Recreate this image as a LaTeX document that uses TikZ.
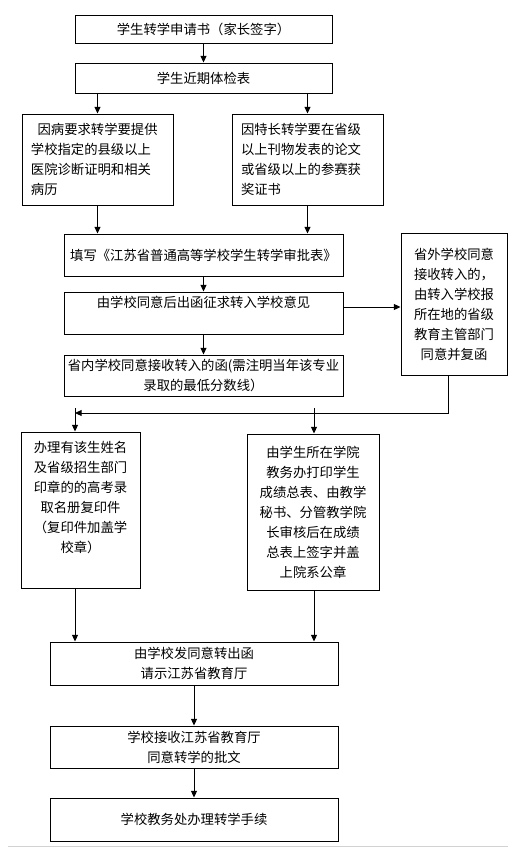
\documentclass[tikz,border=0pt]{standalone}
\usepackage{fontspec}
\setmainfont{Noto Sans CJK SC}
\usetikzlibrary{arrows.meta}

\begin{document}
\begin{tikzpicture}[x=0.75pt,y=-0.75pt]
			\tikzset{box/.style = {shape=rectangle,draw,line width=0.75pt,
					font=\fontsize{10pt}{15pt}\selectfont, align=center,
					inner sep = 0pt}}
			\tikzset{sidebox/.style = {box, align=left, text width=99.75pt,
					inner xsep=6.75pt, minimum height=68.25pt}}
			\tikzset{edge/.style = {-{Triangle[width=4.5pt,length=5pt]}, line width=0.75pt}}
			\tikzset{line/.style = {line width=0.75pt}}

			\useasboundingbox (0,0) rectangle (518,857);

			% boxes
			\node[box, minimum width=192.75pt, minimum height=21pt] (apply) at (203.5,29) {学生转学申请书（家长签字）};
			\node[box, minimum width=192.75pt, minimum height=22.5pt] (health) at (203.5,78) {学生近期体检表};
			\node[sidebox] (ill) at (97.5,159.5) {\hspace{0.5em}因病要求转学要提供\\学校指定的县级以上\\医院诊断证明和相关\\病历};
			\node[sidebox] (talent) at (307.5,159.5) {因特长转学要在省级\\以上刊物发表的论文\\或省级以上的参赛获\\奖证书};
			\node[box, minimum width=209.25pt, minimum height=31.5pt] (form) at (203.5,255) {填写《江苏省普通高等学校学生转学审批表》};
			\node[box, minimum width=209.25pt, minimum height=31.5pt] (ask) at (203.5,313) {由学校同意后出函征求转入学校意见\\[-3pt]\strut};
			\node[box, minimum width=79.5pt, minimum height=106.5pt] (outer) at (454,304) {省外学校同意\\接收转入的，\\由转入学校报\\所在地的省级\\教育主管部门\\同意并复函};
			\node[box, minimum width=209.25pt, minimum height=30.75pt] (inner) at (203.5,375.5) {省内学校同意接收转入的函(需注明当年该专业\\录取的最低分数线）};
			\node[box, minimum width=89.25pt, minimum height=117pt] (copy) at (80.5,510) {办理有该生姓名\\及省级招生部门\\印章的的高考录\\取名册复印件\\（复印件加盖学\\校章）\\ \strut};
			\node[box, minimum width=99pt, minimum height=117pt] (grade) at (313,512) {由学生所在学院\\教务办打印学生\\成绩总表、由教学\\秘书、分管教学院\\长审核后在成绩\\总表上签字并盖\\上院系公章};
			\node[box, minimum width=216pt, minimum height=32.25pt] (letter) at (194,663.5) {由学校发同意转出函\\请示江苏省教育厅};
			\node[box, minimum width=216pt, minimum height=31.5pt] (reply) at (194,747) {学校接收江苏省教育厅\\同意转学的批文};
			\node[box, minimum width=216pt, minimum height=32.25pt] (done) at (194,819.5) {学校教务处办理转学手续};

			\coordinate (split) at (75,413);
			\coordinate (leftdown) at (75,408);
			\coordinate (rightdown) at (314,408);

			%edges
			\draw[edge] (apply) to (health);
			\draw[edge] (health.south -| ill.north) to (ill.north);
			\draw[edge] (health.south -| talent.north) to (talent.north);
			\draw[edge] (ill.south) to (ill.south |- form.north);
			\draw[edge] (talent.south) to (talent.south |- form.north);
			\draw[edge] (form) to (ask);
			\draw[edge] ([yshift=4.5pt]ask.east) to ([yshift=4.5pt]ask.east -| outer.west);
			\draw[edge] (ask) to (inner);
			\draw[edge] ([xshift=-4.5pt]outer.south) |- (split);
			\draw[edge] (leftdown) to (leftdown |- copy.north);
			\draw[edge] (rightdown) to (rightdown |- grade.north);
			\draw[edge] (leftdown |- copy.south) to (leftdown |- letter.north);
			\draw[edge] (rightdown |- grade.south) to (rightdown |- letter.north);
			\draw[edge] (letter) to (reply);
			\draw[edge] (reply) to (done);

			\draw[line, gray!35] (8,846) -- (508,846);
\end{tikzpicture}
\end{document}
